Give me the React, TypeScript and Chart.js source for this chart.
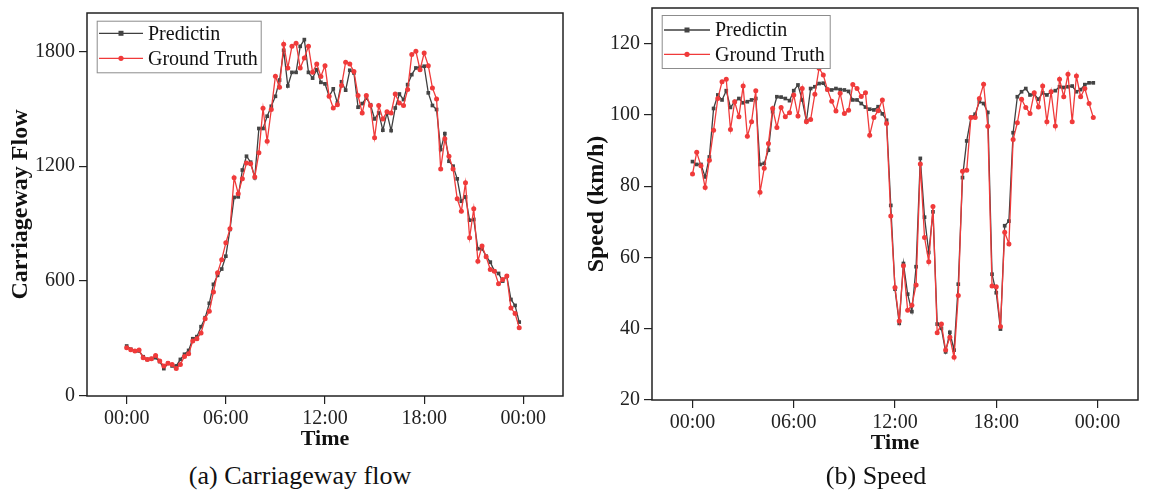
import React, { useEffect, useRef } from "react";
import { Chart, registerables } from "chart.js";

Chart.register(...registerables);

// ---------- data ----------
const timeLabels: string[] = [];
for (let h = 0; h < 24; h++) {
  for (const m of ["00", "15", "30", "45"]) timeLabels.push(`${String(h).padStart(2, "0")}:${m}`);
}
const toHours = (t: string) => {
  const [h, m] = t.split(":").map(Number);
  return h + m / 60;
};

const xTickValues = [0, 6, 12, 18, 24];
const xTickLabels = ["00:00", "06:00", "12:00", "18:00", "00:00"];

const flowTicks = [0, 600, 1200, 1800];
const speedTicks = [20, 40, 60, 80, 100, 120];

const flowPrediction = [
  261, 244, 235, 235, 205, 191, 195, 200, 180, 143, 171, 157, 157, 191, 218, 238,
  299, 310, 362, 409, 484, 583, 630, 663, 730, 870, 1037, 1040, 1180, 1252, 1221, 1140,
  1397, 1397, 1461, 1513, 1565, 1650, 1805, 1619, 1690, 1690, 1826, 1861, 1690, 1660, 1704, 1638,
  1630, 1565, 1604, 1530, 1641, 1597, 1701, 1687, 1508, 1527, 1556, 1521, 1447, 1478, 1388, 1478,
  1386, 1504, 1577, 1548, 1626, 1678, 1713, 1716, 1722, 1583, 1517, 1496, 1287, 1370, 1226, 1200,
  1134, 1017, 1040, 918, 922, 769, 769, 730, 699, 652, 640, 600, 626, 504, 473, 386,
];

const flowTruth = [
  252, 242, 235, 240, 200, 191, 195, 212, 183, 157, 171, 165, 143, 165, 206, 220,
  287, 299, 329, 404, 443, 543, 644, 712, 800, 873, 1140, 1056, 1135, 1217, 1213, 1143,
  1270, 1503, 1330, 1496, 1670, 1612, 1837, 1713, 1826, 1842, 1713, 1765, 1826, 1690, 1734, 1669,
  1725, 1565, 1504, 1521, 1621, 1743, 1734, 1695, 1569, 1478, 1569, 1517, 1348, 1517, 1447, 1484,
  1478, 1577, 1530, 1517, 1600, 1783, 1800, 1704, 1791, 1725, 1609, 1551, 1186, 1343, 1252, 1186,
  1030, 965, 1113, 826, 978, 704, 783, 727, 661, 652, 586, 609, 626, 459, 431, 357,
];

const speedPrediction = [
  86.9, 86.1, 86.1, 82.6, 88.2, 101.8, 105.6, 104.2, 106.8, 102.1, 103.7, 104.6, 103.4, 103.7, 104.2, 104.6,
  86.1, 86.4, 90.1, 100.9, 105.1, 105.0, 104.6, 104.0, 106.8, 108.4, 104.2, 98.3, 107.4, 107.9, 108.8, 108.9,
  107.1, 107.0, 107.4, 107.1, 107.0, 106.6, 104.2, 104.2, 103.2, 102.2, 101.6, 101.4, 102.3, 100.3, 98.5, 74.6,
  51.1, 41.5, 58.3, 49.7, 44.8, 57.4, 87.8, 71.3, 61.4, 72.8, 41.3, 40.1, 33.5, 39.0, 34.0, 52.5,
  82.4, 92.7, 99.3, 100.2, 103.7, 103.2, 100.7, 55.3, 50.1, 39.9, 68.9, 70.2, 95.0, 105.1, 106.5, 107.4,
  105.6, 105.8, 104.4, 106.2, 105.6, 106.5, 106.8, 107.9, 107.7, 107.9, 108.1, 106.5, 107.1, 108.5, 109.0, 109.0,
];

const speedTruth = [
  83.4, 89.5, 85.7, 79.6, 87.3, 95.7, 104.6, 109.3, 110.0, 95.9, 103.7, 99.5, 108.1, 94.0, 98.1, 106.8,
  78.3, 85.0, 92.0, 101.8, 96.5, 102.1, 99.5, 100.6, 105.6, 99.7, 107.4, 98.1, 98.7, 105.8, 113.1, 111.2,
  107.1, 103.8, 101.1, 106.1, 100.4, 101.3, 108.5, 107.4, 105.2, 106.2, 94.3, 99.3, 101.2, 104.2, 97.6, 71.6,
  51.6, 42.2, 57.7, 45.2, 46.6, 52.3, 86.2, 65.6, 58.8, 74.3, 38.9, 41.3, 34.0, 37.6, 32.0, 49.3,
  84.2, 84.5, 99.3, 99.3, 104.6, 108.6, 96.8, 52.0, 51.8, 40.6, 67.1, 63.8, 93.1, 97.8, 104.4, 102.1,
  100.4, 106.2, 102.2, 108.1, 98.1, 106.5, 96.9, 110.0, 105.1, 111.4, 98.1, 110.9, 105.1, 107.4, 103.2, 99.3,
];

const seriesNames = ["Predictin", "Ground Truth"];

// ---------- styling ----------
const FONT = "'Liberation Serif', 'Times New Roman', serif";
const DARK = "#3f3f3f";
const RED = "#f03a3a";
const AXIS = "#222";

Chart.defaults.font.family = FONT;
Chart.defaults.color = AXIS;

const frameLegend = {
  id: "frameLegend",
  afterDraw(chart: any, _args: any, opts: any) {
    const { ctx, chartArea } = chart;
    const { left, top, right, bottom } = chartArea;
    ctx.save();
    ctx.strokeStyle = AXIS;
    ctx.lineWidth = 1.5;
    ctx.strokeRect(left, top, right - left, bottom - top);

    const b = opts.box;
    const bx = left + b.dx;
    const by = top + b.dy;
    ctx.fillStyle = "#fff";
    ctx.fillRect(bx, by, b.w, b.h);
    ctx.strokeStyle = "#8c8c8c";
    ctx.lineWidth = 1;
    ctx.strokeRect(bx + 0.5, by + 0.5, b.w, b.h);

    chart.data.datasets.forEach((ds: any, i: number) => {
      const y = top + b.rows[i];
      ctx.strokeStyle = ds.borderColor;
      ctx.lineWidth = 1.3;
      ctx.beginPath();
      ctx.moveTo(left + b.l0, y);
      ctx.lineTo(left + b.l1, y);
      ctx.stroke();
      const mx = left + b.m;
      ctx.fillStyle = ds.pointBackgroundColor;
      if (ds.pointStyle === "rect") {
        ctx.fillRect(mx - 2.5, y - 2.5, 5, 5);
      } else {
        ctx.beginPath();
        ctx.arc(mx, y, 2.6, 0, Math.PI * 2);
        ctx.fill();
      }
      ctx.fillStyle = "#111";
      ctx.font = `20px ${FONT}`;
      ctx.textBaseline = "middle";
      ctx.textAlign = "left";
      ctx.fillText(ds.label, left + b.t, y + 1);
    });
    ctx.restore();
  },
};

type Cfg = {
  pred: number[];
  truth: number[];
  yMin: number;
  yMax: number;
  yTicks: number[];
  yTitle: string;
  yWidth: number;
  xHeight: number;
  padding: any;
  yTitlePad: number;
  xTitlePad: number;
  box: any;
};

function makeChart(canvas: HTMLCanvasElement, c: Cfg) {
  const xs = timeLabels.map(toHours);
  return new Chart(canvas, {
    type: "line",
    data: {
      datasets: [
        {
          label: seriesNames[0],
          data: c.pred.map((v, i) => ({ x: xs[i], y: v })),
          borderColor: DARK,
          backgroundColor: DARK,
          pointBackgroundColor: "#444",
          pointBorderColor: "#444",
          pointStyle: "rect",
          pointRadius: 2.6,
          pointBorderWidth: 0,
          borderWidth: 1.3,
          tension: 0,
          order: 1,
        },
        {
          label: seriesNames[1],
          data: c.truth.map((v, i) => ({ x: xs[i], y: v })),
          borderColor: RED,
          backgroundColor: RED,
          pointBackgroundColor: RED,
          pointBorderColor: RED,
          pointStyle: "circle",
          pointRadius: 2.5,
          pointBorderWidth: 0,
          borderWidth: 1.3,
          tension: 0,
          order: 0,
        },
      ],
    } as any,
    options: {
      animation: false,
      responsive: false,
      maintainAspectRatio: false,
      layout: { padding: c.padding },
      plugins: {
        legend: { display: false },
        tooltip: { enabled: false },
        frameLegend: { box: c.box },
      } as any,
      scales: {
        x: {
          type: "linear",
          min: -2.4,
          max: 26.4,
          afterBuildTicks: (s: any) => {
            s.ticks = xTickValues.map((v) => ({ value: v }));
          },
          afterFit: (s: any) => {
            s.height = c.xHeight;
            s.paddingLeft = 0;
            s.paddingRight = 0;
          },
          ticks: {
            callback: (v: any) => xTickLabels[xTickValues.indexOf(Number(v))],
            font: { size: 20 },
            color: AXIS,
            padding: 3,
            maxRotation: 0,
          },
          grid: { drawOnChartArea: false, drawTicks: true, tickLength: 8, color: AXIS, lineWidth: 1.2 },
          border: { display: false },
          title: {
            display: true,
            text: "Time",
            font: { size: 22, weight: "bold" },
            color: "#111",
            padding: { top: 0, bottom: c.xTitlePad },
          },
        },
        y: {
          type: "linear",
          min: c.yMin,
          max: c.yMax,
          afterBuildTicks: (s: any) => {
            s.ticks = c.yTicks.map((v) => ({ value: v }));
          },
          afterFit: (s: any) => {
            s.width = c.yWidth;
            s.paddingTop = 0;
            s.paddingBottom = 0;
          },
          ticks: { font: { size: 20 }, color: AXIS, padding: 4, callback: (v: any) => String(v) },
          grid: { drawOnChartArea: false, drawTicks: true, tickLength: 8, color: AXIS, lineWidth: 1.2 },
          border: { display: false },
          title: {
            display: true,
            text: c.yTitle,
            font: { size: 24, weight: "bold" },
            color: "#111",
            padding: { top: c.yTitlePad, bottom: 0 },
          },
        },
      },
    } as any,
    plugins: [frameLegend],
  });
}

function Panel(props: { cfg: Cfg; width: number; height: number; left: number }) {
  const ref = useRef<HTMLCanvasElement>(null);
  useEffect(() => {
    const ch = makeChart(ref.current!, props.cfg);
    return () => ch.destroy();
  }, []);
  return (
    <canvas
      ref={ref}
      width={props.width}
      height={props.height}
      style={{ position: "absolute", left: props.left, top: 0, width: props.width, height: props.height }}
    />
  );
}

const flowCfg: Cfg = {
  pred: flowPrediction,
  truth: flowTruth,
  yMin: 0,
  yMax: 2000,
  yTicks: flowTicks,
  yTitle: "Carriageway Flow",
  yWidth: 87,
  xHeight: 59,
  padding: { left: 0, top: 13, right: 17, bottom: 0 },
  yTitlePad: 6,
  xTitlePad: 2,
  box: { dx: 9.7, dy: 7.7, w: 164, h: 51.6, rows: [20.3, 45.3], l0: 12, l1: 56, m: 34, t: 61 },
};

const speedCfg: Cfg = {
  pred: speedPrediction,
  truth: speedTruth,
  yMin: 20,
  yMax: 130,
  yTicks: speedTicks,
  yTitle: "Speed (km/h)",
  yWidth: 77,
  xHeight: 60,
  padding: { left: 0, top: 8, right: 11, bottom: 0 },
  yTitlePad: 7,
  xTitlePad: 3,
  box: { dx: 9.7, dy: 7, w: 168, h: 53, rows: [22, 46.3], l0: 12, l1: 58, m: 35, t: 63 },
};

export default function App() {
  const cap: React.CSSProperties = {
    position: "absolute",
    top: 462,
    fontFamily: FONT,
    fontSize: 26,
    lineHeight: "28px",
    color: "#111",
    textAlign: "center",
    whiteSpace: "nowrap",
  };
  return (
    <div style={{ position: "absolute", left: 0, top: 0, width: 1149, height: 492, background: "#fff", overflow: "hidden" }}>
      <Panel cfg={flowCfg} width={580} height={455} left={0} />
      <Panel cfg={speedCfg} width={574} height={460} left={575} />
      <div style={{ ...cap, left: 100, width: 400 }}>(a) Carriageway flow</div>
      <div style={{ ...cap, left: 676, width: 400 }}>(b) Speed</div>
    </div>
  );
}
